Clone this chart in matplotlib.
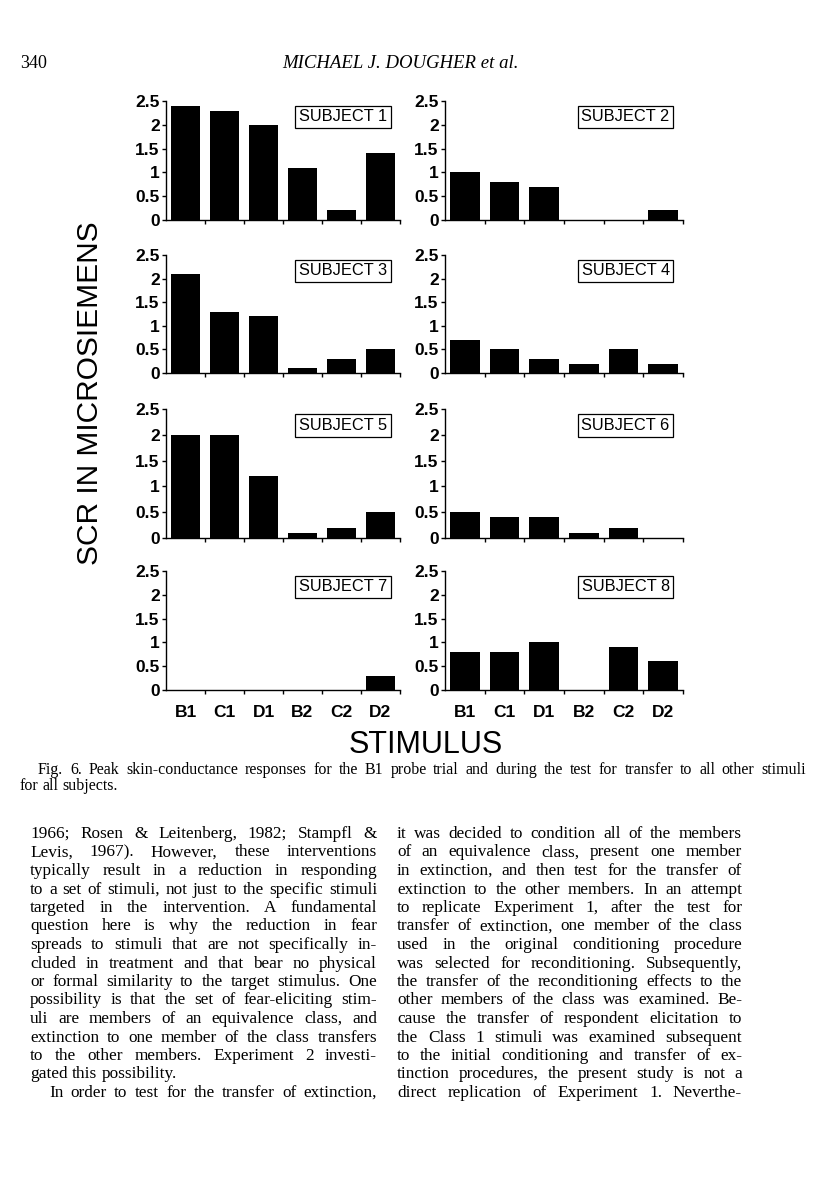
import matplotlib
matplotlib.use("Agg")
import matplotlib.pyplot as plt
from matplotlib.font_manager import FontProperties
import numpy as np

# data (peak SCR, microsiemens)
stimuli = ["B1", "C1", "D1", "B2", "C2", "D2"]
subject_1 = [2.4, 2.3, 2.0, 1.1, 0.2, 1.4]
subject_2 = [1.0, 0.8, 0.7, 0.0, 0.0, 0.2]
subject_3 = [2.1, 1.3, 1.2, 0.1, 0.3, 0.5]
subject_4 = [0.7, 0.5, 0.3, 0.2, 0.5, 0.2]
subject_5 = [2.0, 2.0, 1.2, 0.1, 0.2, 0.5]
subject_6 = [0.5, 0.4, 0.4, 0.1, 0.2, 0.0]
subject_7 = [0.0, 0.0, 0.0, 0.0, 0.0, 0.3]
subject_8 = [0.8, 0.8, 1.0, 0.0, 0.9, 0.6]
subjects = [subject_1, subject_2, subject_3, subject_4,
            subject_5, subject_6, subject_7, subject_8]
y_ticks = [0, 0.5, 1, 1.5, 2, 2.5]

header_page = "340"
header_title = "MICHAEL J. DOUGHER et al."
caption = ["Fig. 6.  Peak skin-conductance responses for the B1 probe trial and during the test for transfer to all other stimuli",
           "for all subjects."]

left_col = [
    "1966; Rosen & Leitenberg, 1982; Stampfl &",
    "Levis, 1967). However, these interventions",
    "typically result in a reduction in responding",
    "to a set of stimuli, not just to the specific stimuli",
    "targeted in the intervention. A fundamental",
    "question here is why the reduction in fear",
    "spreads to stimuli that are not specifically in-",
    "cluded in treatment and that bear no physical",
    "or formal similarity to the target stimulus. One",
    "possibility is that the set of fear-eliciting stim-",
    "uli are members of an equivalence class, and",
    "extinction to one member of the class transfers",
    "to the other members. Experiment 2 investi-",
    "gated this possibility.",
    "In order to test for the transfer of extinction,",
]
right_col = [
    "it was decided to condition all of the members",
    "of an equivalence class, present one member",
    "in extinction, and then test for the transfer of",
    "extinction to the other members. In an attempt",
    "to replicate Experiment 1, after the test for",
    "transfer of extinction, one member of the class",
    "used in the original conditioning procedure",
    "was selected for reconditioning. Subsequently,",
    "the transfer of the reconditioning effects to the",
    "other members of the class was examined. Be-",
    "cause the transfer of respondent elicitation to",
    "the Class 1 stimuli was examined subsequent",
    "to the initial conditioning and transfer of ex-",
    "tinction procedures, the present study is not a",
    "direct replication of Experiment 1. Neverthe-",
]

W, H = 816, 1200
fig = plt.figure(figsize=(W / 100, H / 100), dpi=100)
fig.patch.set_facecolor("white")
sans = "Liberation Sans"
serif = "Liberation Serif"

# panel grid in page pixels
cols = [(166, 400), (445, 683)]
rows = [(101, 220), (255, 373), (409, 538), (571, 690)]

for i, vals in enumerate(subjects):
    r, c = divmod(i, 2)
    x0, x1 = cols[c]
    yt, yb = rows[r]
    ax = fig.add_axes([x0 / W, 1 - yb / H, (x1 - x0) / W, (yb - yt) / H])
    x = np.arange(len(stimuli))
    ax.bar(x, vals, width=0.75, color="black")
    ax.set_xlim(-0.5, len(stimuli) - 0.5)
    ax.set_ylim(0, 2.5)
    for s in ("top", "right"):
        ax.spines[s].set_visible(False)
    for s in ("left", "bottom"):
        ax.spines[s].set_linewidth(1.0)
    ax.set_yticks(y_ticks)
    ax.set_yticklabels([f"{v:g}" for v in y_ticks], fontsize=12.5,
                       fontweight="bold", family=sans)
    ax.tick_params(axis="y", length=3, width=1, pad=1.5)
    ax.set_xticks(x)
    ax.set_xticks(x + 0.5, minor=True)
    ax.tick_params(axis="x", which="major", length=0, pad=11)
    ax.tick_params(axis="x", which="minor", length=3, width=1)
    if r == 3:
        ax.set_xticklabels(stimuli, fontsize=12.5, fontweight="bold", family=sans)
    else:
        ax.set_xticklabels([])
    ax.text(0.944, 0.93, f"SUBJECT {i + 1}", transform=ax.transAxes,
            ha="right", va="top", fontsize=11.8, family=sans,
            bbox=dict(boxstyle="square,pad=0.22", fc="white", ec="black", lw=0.9))

fig.text(90 / W, 1 - 393 / H, "SCR IN MICROSIEMENS", rotation=90,
         ha="center", va="center", fontsize=21.5, family=sans)
fig.text(426 / W, 1 - 745 / H, "STIMULUS", ha="center", va="center",
         fontsize=22, family=sans)

# header
fig.text(20 / W, 1 - 68 / H, header_page, ha="left", va="baseline",
         fontsize=13, family=serif)
fig.text(400 / W, 1 - 68 / H, header_title, ha="center", va="baseline",
         fontsize=13.5, family=serif, style="italic")

renderer = fig.canvas.get_renderer()


def put_line(text, x_left, x_right, y, prop, justify=True, indent=0):
    words = text.split()
    widths = [renderer.get_text_width_height_descent(w, prop, ismath=False)[0]
              for w in words]
    xl = x_left + indent
    if justify and len(words) > 1:
        gap = (x_right - xl - sum(widths)) / (len(words) - 1)
    else:
        gap = prop.get_size_in_points() * 100 / 72 * 0.25
    xp = xl
    for w, wd in zip(words, widths):
        fig.text(xp / W, 1 - y / H, w, fontproperties=prop, ha="left", va="baseline")
        xp += wd + gap


cap_font = FontProperties(family=serif, size=11.5)
put_line(caption[0], 38, 806, 774, cap_font)
put_line(caption[1], 20, 806, 790, cap_font, justify=False)

body_font = FontProperties(family=serif, size=12.4)
for k, line in enumerate(left_col):
    y = 838 + 18.5 * k
    put_line(line, 30, 377, y, body_font,
             justify=(k != 13), indent=19 if k == 14 else 0)
for k, line in enumerate(right_col):
    y = 838 + 18.5 * k
    put_line(line, 397, 742, y, body_font)

fig.savefig("out.png", dpi=100, facecolor="white")
